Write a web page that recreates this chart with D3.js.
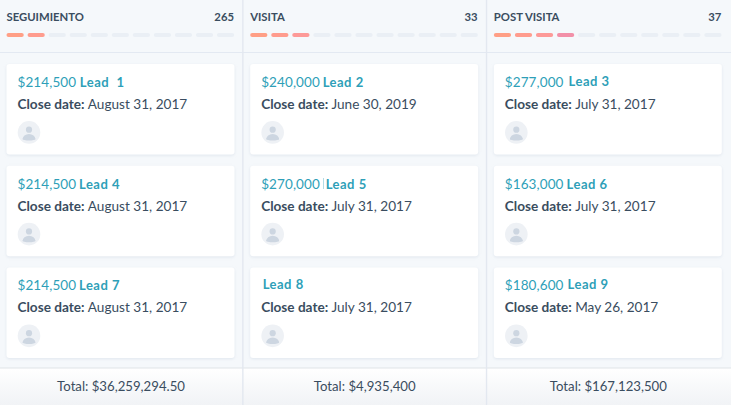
<!DOCTYPE html>
<html><head><meta charset="utf-8">
<script src="https://cdn.jsdelivr.net/npm/d3@7"></script>
<style>html,body{margin:0;padding:0;background:#f5f8fb;overflow:hidden}svg{display:block}text{font-family:Lato,sans-serif}</style>
</head><body><script>
const stages=["SEGUIMIENTO","VISITA","POST VISITA"];
const counts=[265,33,37];
const stageProgress=[2,3,4];
const totals=["Total: $36,259,294.50","Total: $4,935,400","Total: $167,123,500"];
const amounts=[["$214,500","$214,500","$214,500"],["$240,000","$270,000","" ],["$277,000","$163,000","$180,600"]];
const leads=[["Lead  1","Lead 4","Lead 7"],["Lead 2","Lead 5","Lead 8"],["Lead 3","Lead 6","Lead 9"]];
const dates=[["August 31, 2017","August 31, 2017","August 31, 2017"],["June 30, 2019","July 31, 2017","July 31, 2017"],["July 31, 2017","July 31, 2017","May 26, 2017"]];
const segmentColors=["#ff9f86","#ff9c8e","#fd9a98","#f290a8"];
const segmentIndex=d3.range(11);

const W=731,H=405;
const svg=d3.select("body").append("svg").attr("width",W).attr("height",H);
const defs=svg.append("defs");
const f=defs.append("filter").attr("id","sh").attr("x","-5%").attr("y","-5%").attr("width","110%").attr("height","115%");
f.append("feDropShadow").attr("dx",0).attr("dy",1).attr("stdDeviation",1.4).attr("flood-color","#b6c4d4").attr("flood-opacity",0.35);
const g=defs.append("linearGradient").attr("id","foot").attr("x1",0).attr("x2",0).attr("y1",0).attr("y2",1);
g.append("stop").attr("offset",0).attr("stop-color","#fff");
g.append("stop").attr("offset",1).attr("stop-color","#f1f3f6");

const x=d3.scaleBand().domain(d3.range(3)).range([-.8,730.2]);
const y=d3.scaleBand().domain(d3.range(3)).range([64,358]).paddingInner(0.11).paddingOuter(0);
const seg=d3.scaleBand().domain(segmentIndex).range([7.3,235]).paddingInner(0.18);
const ink="#3a4d60",teal="#2e9fb8";
const cardX=7.3;
const leadDx=[[62.3,61.5,61.5],[61.5,64.5,1.5],[63.7,61.7,62.7]];
const leadDy=[[0,0,0],[0,0,-1],[-1,0,-1]];

svg.append("rect").attr("width",W).attr("height",H).attr("fill","#f5f8fb");
svg.append("line").attr("x1",0).attr("x2",W).attr("y1",52.5).attr("y2",52.5).attr("stroke","#e3e9f2");
svg.append("rect").attr("y",368).attr("width",W).attr("height",H-368).attr("fill","url(#foot)");
svg.append("line").attr("x1",0).attr("x2",W).attr("y1",368).attr("y2",368).attr("stroke","#dfe3e8").attr("stroke-width",1.2);

const col=svg.selectAll("g.col").data(d3.range(3)).join("g").attr("transform",i=>`translate(${x(i)},0)`);
col.filter(i=>i>0).append("line").attr("x1",0).attr("x2",0).attr("y1",0).attr("y2",H).attr("stroke","#e3e8f0").attr("stroke-width",1.4);
col.append("text").attr("x",cardX).attr("y",21).attr("font-size",11.3).attr("font-weight",700).attr("fill",ink).text(i=>stages[i]);
col.append("text").attr("x",cardX+227.5).attr("y",21).attr("text-anchor","end").attr("font-size",11.3).attr("font-weight",700).attr("fill",ink).text(i=>counts[i]);
col.each(function(i){
  const c=d3.select(this);
  c.selectAll("rect.s").data(segmentIndex).join("rect").attr("class","s")
    .attr("x",d=>seg(d)).attr("y",33).attr("width",seg.bandwidth()).attr("height",4).attr("rx",2)
    .attr("fill",d=>d<stageProgress[i]?segmentColors[d]:"#eaeff5");
  const card=c.selectAll("g.card").data(d3.range(3)).join("g").attr("class","card").attr("transform",r=>`translate(${cardX},${y(r)})`);
  card.append("rect").attr("width",228).attr("height",y.bandwidth()).attr("rx",3).attr("fill","#fff").attr("filter","url(#sh)");
  card.append("text").attr("x",11).attr("y",23).attr("font-size",13.5).attr("fill",teal).attr("letter-spacing",.1).text(r=>amounts[i][r]);
  card.append("text").attr("x",r=>11+leadDx[i][r]).attr("y",r=>23+leadDy[i][r]).attr("font-size",13).attr("font-weight",700).attr("fill",teal).attr("letter-spacing",.5).style("white-space","pre").text(r=>leads[i][r]);
  const t=card.append("text").attr("x",11).attr("y",45).attr("font-size",13.6).attr("fill",ink);
  t.append("tspan").attr("font-weight",700).text("Close date: ");
  t.append("tspan").text(r=>dates[i][r]);
  const av=card.append("g").attr("transform","translate(22.5,68.4)");
  av.append("circle").attr("r",11.3).attr("fill","#eef1f5");
  av.append("circle").attr("cy",-2.7).attr("r",3.1).attr("fill","#cdd6e1");
  av.append("path").attr("d",d3.arc()({innerRadius:0,outerRadius:6.4,startAngle:-Math.PI/2,endAngle:Math.PI/2})).attr("transform","translate(0,7) scale(1,.85)").attr("fill","#cdd6e1");
  av.append("ellipse").attr("cy",6.4).attr("rx",6.4).attr("ry",1.8).attr("fill","#cdd6e1");
  c.append("text").attr("x",x.bandwidth()/2).attr("y",391).attr("text-anchor","middle").attr("font-size",13.2).attr("fill",ink).text(totals[i]);
});
svg.append("line").attr("x1",323.5).attr("x2",323.5).attr("y1",178).attr("y2",189).attr("stroke","#9fd2de").attr("stroke-width",.8);
</script></body></html>
